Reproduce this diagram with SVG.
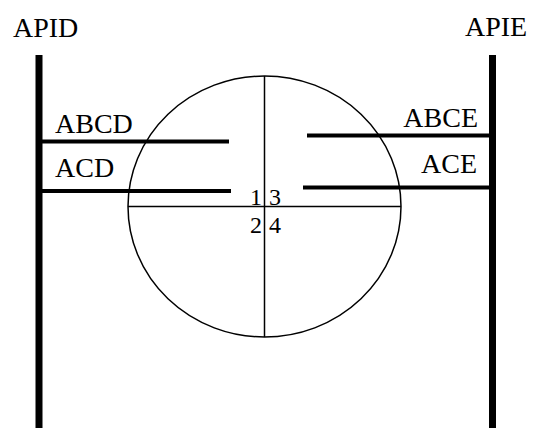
<svg xmlns="http://www.w3.org/2000/svg" width="535" height="428" viewBox="0 0 535 428">
<style>
text{font-family:"Liberation Serif","Times New Roman",serif;font-size:28px;fill:#000}
text.num{font-size:24px}
.thick{stroke:#000;stroke-width:7}
.bar{stroke:#000;stroke-width:4}
.thin{stroke:#000;stroke-width:1.5;fill:none}
</style>
<rect width="535" height="428" fill="#fff"/>
<g id="circle">
<ellipse class="thin" cx="264.5" cy="206.5" rx="136.5" ry="130.5"/>
<line class="thin" x1="264.5" y1="76" x2="264.5" y2="337"/>
<line class="thin" x1="128" y1="206.5" x2="401" y2="206.5"/>
<text class="num" x="262" y="204.5" text-anchor="end">1</text>
<text class="num" x="269" y="204.5">3</text>
<text class="num" x="262" y="232.5" text-anchor="end">2</text>
<text class="num" x="269" y="232.5">4</text>
</g>
<g id="APID">
<line class="thick" x1="39" y1="55" x2="39" y2="428"/>
<text x="13" y="37">APID</text>
</g>
<g id="APIE">
<line class="thick" x1="492.5" y1="55" x2="492.5" y2="428"/>
<text x="465" y="36">APIE</text>
</g>
<g id="connectors">
<line class="bar" x1="39" y1="141.5" x2="229" y2="141.5"/>
<line class="bar" x1="39" y1="191" x2="231" y2="191"/>
<line class="bar" x1="307" y1="135.5" x2="492" y2="135.5"/>
<line class="bar" x1="303" y1="187.5" x2="492" y2="187.5"/>
</g>
<g id="labels">
<text x="55" y="133">ABCD</text>
<text x="55" y="177">ACD</text>
<text x="478" y="127" text-anchor="end">ABCE</text>
<text x="477" y="173" text-anchor="end">ACE</text>
</g>
</svg>
